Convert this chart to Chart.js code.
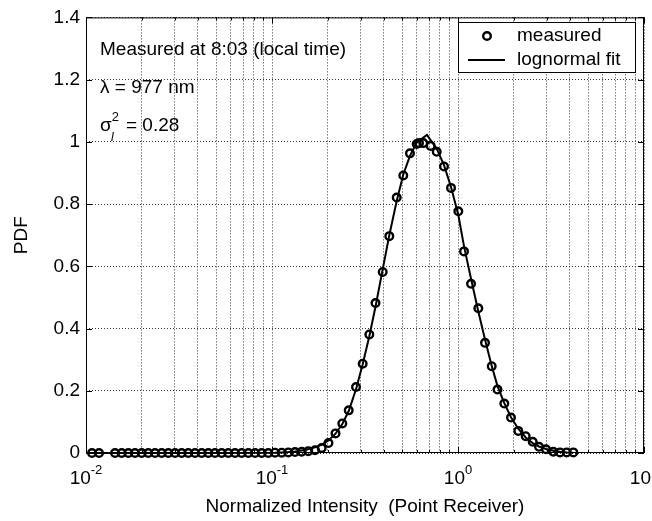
<!DOCTYPE html>
<html>
<head>
<meta charset="utf-8">
<script src="https://cdn.jsdelivr.net/npm/chart.js@4.4.1/dist/chart.umd.min.js"></script>
<style>
  body { margin: 0; background: #fff; }
  canvas { display: block; }
</style>
</head>
<body>
<canvas id="pdf" width="652" height="521"></canvas>
<script>
// normalized intensity of each histogram bin
const intensity = [
  0.01077, 0.01175, 0.01432, 0.01556, 0.01689, 0.01834, 0.01993, 0.02162, 0.02350, 0.02553,
  0.02771, 0.03010, 0.03269, 0.03548, 0.03855, 0.04188, 0.04545, 0.04936, 0.05364, 0.05823,
  0.06325, 0.06872, 0.07458, 0.08101, 0.08801, 0.09552, 0.1038, 0.1128, 0.1224, 0.1329,
  0.1444, 0.1567, 0.1703, 0.1850, 0.2012, 0.2195, 0.2388, 0.2585, 0.2829, 0.3073,
  0.3336, 0.3601, 0.3937, 0.4272, 0.4682, 0.5080, 0.5518, 0.5998, 0.6170, 0.6506,
  0.7129, 0.7683, 0.8409, 0.9171, 1.004, 1.077, 1.175, 1.286, 1.397, 1.518,
  1.631, 1.774, 1.927, 2.110, 2.312, 2.521, 2.726, 2.973, 3.253, 3.535,
  3.841, 4.168
];
const measured = [
  0, 0, 0, 0, 0, 0, 0, 0, 0, 0,
  0, 0, 0, 0, 0, 0, 0, 0, 0, 0,
  0, 0, 0, 0, 0, 0, 0.001, 0.001, 0.002, 0.003,
  0.004, 0.006, 0.009, 0.016, 0.032, 0.063, 0.095, 0.137, 0.212, 0.287,
  0.381, 0.482, 0.582, 0.697, 0.821, 0.892, 0.963, 0.993, 0.996, 0.996,
  0.987, 0.968, 0.921, 0.852, 0.777, 0.648, 0.544, 0.465, 0.354, 0.279,
  0.204, 0.159, 0.114, 0.071, 0.054, 0.036, 0.020, 0.012, 0.004, 0.002,
  0.002, 0.002
];

// lognormal fit curve
const fitIntensity = [
  0.01077, 0.05, 0.1038, 0.1128, 0.1224, 0.1329, 0.1444, 0.1567, 0.1703, 0.1850,
  0.2012, 0.2195, 0.2388, 0.2585, 0.2829, 0.3073, 0.3336, 0.3601, 0.3937, 0.4272,
  0.4682, 0.5080, 0.5518, 0.5998, 0.681, 0.7683, 0.8409, 0.9171, 1.004, 1.077,
  1.175, 1.286, 1.397, 1.518, 1.631, 1.774, 1.927, 2.110, 2.312, 2.521,
  2.726, 2.973, 3.253, 3.535, 3.841, 4.168
];
const fit = [
  0, 0, 0.001, 0.002, 0.003, 0.005, 0.008, 0.012, 0.018, 0.027,
  0.040, 0.062, 0.093, 0.135, 0.205, 0.285, 0.375, 0.470, 0.590, 0.700,
  0.810, 0.895, 0.955, 0.998, 1.022, 0.978, 0.925, 0.855, 0.765, 0.665,
  0.560, 0.455, 0.365, 0.280, 0.215, 0.160, 0.115, 0.078, 0.050, 0.032,
  0.021, 0.013, 0.007, 0.004, 0.002, 0.001
];

const decades = [-2, -1, 0, 1];
const mantissas = [1, 2, 3, 4, 5, 6, 7, 8, 9];
const yTicks = [0, 0.2, 0.4, 0.6, 0.8, 1, 1.2, 1.4];
const notes = ['Measured at 8:03 (local time)', '\u03bb = 977 nm'];
const legendLabels = ['measured', 'lognormal fit'];

const FONT = '"Liberation Sans", Arial, sans-serif';
const BIG = '19px ' + FONT;
const SMALL = '13px ' + FONT;

function xTickValues() {
  const out = [];
  decades.slice(0, -1).forEach(e => {
    mantissas.forEach(m => out.push(Number((m * Math.pow(10, e)).toPrecision(3))));
  });
  out.push(Math.pow(10, decades[decades.length - 1]));
  return out;
}

const decor = {
  id: 'decor',
  afterDraw(chart) {
    const ctx = chart.ctx;
    const a = chart.chartArea;
    const xs = chart.scales.x, ys = chart.scales.y;
    ctx.save();
    ctx.fillStyle = '#000';
    ctx.strokeStyle = '#000';
    ctx.setLineDash([]);

    // frame
    ctx.lineWidth = 1;
    ctx.strokeRect(a.left + 0.5, a.top + 0.5, a.right - a.left - 1, a.bottom - a.top - 1);

    // inward tick marks
    ctx.beginPath();
    xs.ticks.forEach(t => {
      const px = Math.round(xs.getPixelForValue(t.value)) + 0.5;
      const major = decades.some(e => Math.abs(t.value - Math.pow(10, e)) < 1e-9);
      const len = major ? 6 : 3;
      ctx.moveTo(px, a.bottom); ctx.lineTo(px, a.bottom - len);
      ctx.moveTo(px, a.top); ctx.lineTo(px, a.top + len);
    });
    yTicks.forEach(v => {
      const py = Math.round(ys.getPixelForValue(v)) + 0.5;
      ctx.moveTo(a.left, py); ctx.lineTo(a.left + 6, py);
      ctx.moveTo(a.right, py); ctx.lineTo(a.right - 6, py);
    });
    ctx.stroke();

    // x tick labels 10^n
    decades.forEach(e => {
      const px = xs.getPixelForValue(Math.pow(10, e));
      ctx.font = BIG;
      const wb = ctx.measureText('10').width;
      ctx.font = SMALL;
      const exp = String(e);
      const we = ctx.measureText(exp).width;
      const x0 = px - (wb + we) / 2;
      ctx.textAlign = 'left';
      ctx.textBaseline = 'alphabetic';
      ctx.font = BIG;
      ctx.fillText('10', x0, 484);
      ctx.font = SMALL;
      ctx.fillText(exp, x0 + wb, 474);
    });

    // axis titles
    ctx.font = BIG;
    ctx.textAlign = 'center';
    ctx.textBaseline = 'middle';
    ctx.fillText('Normalized Intensity  (Point Receiver)', (a.left + a.right) / 2, 507);
    ctx.save();
    ctx.translate(22, (a.top + a.bottom) / 2);
    ctx.rotate(-Math.PI / 2);
    ctx.fillText('PDF', 0, 0);
    ctx.restore();

    // annotations
    ctx.textAlign = 'left';
    ctx.textBaseline = 'alphabetic';
    ctx.font = BIG;
    ctx.fillText(notes[0], 100, 55);
    ctx.fillText(notes[1], 100, 93);
    ctx.fillText('\u03c3', 100, 131);
    const ws = ctx.measureText('\u03c3').width;
    ctx.font = SMALL;
    ctx.fillText('2', 100 + ws, 121);
    ctx.font = 'italic 12px ' + FONT;
    ctx.fillText('I', 100 + ws - 1, 141);
    ctx.font = BIG;
    ctx.fillText('= 0.28', 126, 131);

    // legend
    ctx.fillStyle = '#fff';
    ctx.fillRect(458, 22, 178, 51);
    ctx.lineWidth = 1;
    ctx.strokeRect(458.5, 22.5, 177, 50);
    ctx.lineWidth = 2.4;
    ctx.beginPath();
    ctx.arc(487, 36, 3.8, 0, Math.PI * 2);
    ctx.stroke();
    ctx.lineWidth = 2;
    ctx.beginPath();
    ctx.moveTo(468, 60); ctx.lineTo(505, 60);
    ctx.stroke();
    ctx.fillStyle = '#000';
    ctx.textBaseline = 'middle';
    ctx.font = BIG;
    ctx.fillText(legendLabels[0], 517, 36);
    ctx.fillText(legendLabels[1], 517, 60);
    ctx.restore();
  }
};

new Chart(document.getElementById('pdf'), {
  type: 'scatter',
  data: {
    datasets: [
      {
        label: legendLabels[0],
        data: intensity.map((x, i) => ({ x: x, y: measured[i] })),
        showLine: false,
        pointStyle: 'circle',
        pointRadius: 3.8,
        pointBorderWidth: 2.4,
        pointBorderColor: '#000',
        pointBackgroundColor: 'rgba(0,0,0,0)',
        clip: false
      },
      {
        label: legendLabels[1],
        data: fitIntensity.map((x, i) => ({ x: x, y: fit[i] })),
        showLine: true,
        pointRadius: 0,
        borderColor: '#000',
        borderWidth: 2,
        tension: 0,
        clip: false
      }
    ]
  },
  options: {
    responsive: false,
    animation: false,
    devicePixelRatio: 1,
    layout: { padding: { left: 0, right: 8, top: 16, bottom: 0 } },
    plugins: {
      legend: { display: false },
      tooltip: { enabled: false }
    },
    scales: {
      x: {
        type: 'logarithmic',
        min: 0.01,
        max: 10,
        afterBuildTicks: s => { s.ticks = xTickValues().map(v => ({ value: v })); },
        afterFit: s => { s.height = 68; },
        ticks: { display: false },
        grid: { color: '#333', lineWidth: 1, drawTicks: false },
        border: { display: false, dash: [1, 2] }
      },
      y: {
        min: 0,
        max: 1.4,
        afterBuildTicks: s => { s.ticks = yTicks.map(v => ({ value: v })); },
        afterFit: s => { s.width = 86; },
        ticks: {
          color: '#000',
          padding: 6,
          font: { family: FONT, size: 19 },
          callback: v => String(Number(v.toFixed(1)))
        },
        grid: { color: '#333', lineWidth: 1, drawTicks: false },
        border: { display: false, dash: [1, 2] }
      }
    }
  },
  plugins: [decor]
});
</script>
</body>
</html>
